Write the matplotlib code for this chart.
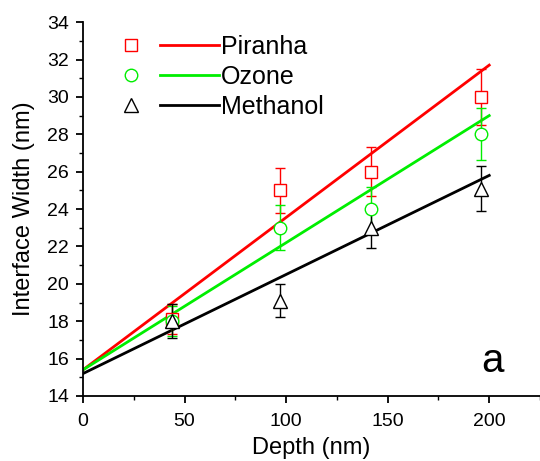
import matplotlib
matplotlib.use('Agg')
import matplotlib.pyplot as plt
import numpy as np
from matplotlib.legend_handler import HandlerTuple
from matplotlib.ticker import MultipleLocator

plt.rcParams['font.family'] = ['Liberation Sans', 'DejaVu Sans']

# measured points
depth = [44, 97, 142, 196]
piranha = [18.1, 25.0, 26.0, 30.0]
piranha_err = [0.8, 1.2, 1.3, 1.5]
ozone = [18.0, 23.0, 24.0, 28.0]
ozone_err = [0.8, 1.2, 1.2, 1.4]
methanol = [18.0, 19.1, 23.0, 25.1]
methanol_err = [0.9, 0.9, 1.1, 1.2]

# linear fits (intercept, slope)
fit_x = [0, 200]
piranha_fit = (15.4, 0.0815)
ozone_fit = (15.4, 0.068)
methanol_fit = (15.2, 0.053)

series = [
    ('Piranha', piranha, piranha_err, piranha_fit, '#ff0000', 's', 8),
    ('Ozone', ozone, ozone_err, ozone_fit, '#00ee00', 'o', 9),
    ('Methanol', methanol, methanol_err, methanol_fit, 'black', '^', 10),
]

fig = plt.figure(figsize=(5.4, 4.61), dpi=100)
ax = fig.add_axes([0.1537, 0.141, 0.8463, 0.811])

handles = []
labels = []
for name, y, err, fit, color, marker, ms in series:
    ax.errorbar(depth, y, yerr=err, fmt=marker, mfc='white', mec=color,
                ms=ms, mew=1.0, ecolor=color, elinewidth=1.0, capsize=3.5,
                capthick=1.0, zorder=3)
    xs = np.array(fit_x)
    ln, = ax.plot(xs, fit[0] + fit[1] * xs, color=color, lw=2.0, zorder=2)
    mk, = ax.plot([], [], marker, mfc='none', mec=color, ms=ms, mew=1.0)
    handles.append((mk, ln))
    labels.append(name)

ax.set_xlim(0, 225)
ax.set_ylim(14, 34)
ax.xaxis.set_major_locator(MultipleLocator(50))
ax.xaxis.set_minor_locator(MultipleLocator(25))
ax.yaxis.set_major_locator(MultipleLocator(2))
ax.yaxis.set_minor_locator(MultipleLocator(1))
ax.spines['top'].set_visible(False)
ax.spines['right'].set_visible(False)
for s in ['left', 'bottom']:
    ax.spines[s].set_linewidth(1.3)
ax.tick_params(which='major', direction='out', length=5, width=1.3, labelsize=14)
ax.tick_params(axis='x', which='major', pad=7)
ax.tick_params(axis='y', which='major', pad=5)
ax.tick_params(which='minor', direction='out', length=3, width=1.0)
ax.set_xlabel('Depth (nm)', fontsize=17, labelpad=5)
ax.set_ylabel('Interface Width (nm)', fontsize=17, labelpad=9)

ax.legend(handles, labels, handler_map={tuple: HandlerTuple(ndivide=2, pad=0.0)},
          loc='upper left', bbox_to_anchor=(0.04, 0.966), frameon=False,
          borderaxespad=0, borderpad=0,
          fontsize=18, handlelength=4.72, handletextpad=0.05, labelspacing=0.24)

ax.text(0.895, 0.094, 'a', transform=ax.transAxes, fontsize=29, ha='center', va='center')

fig.savefig('out.png', dpi=100)
